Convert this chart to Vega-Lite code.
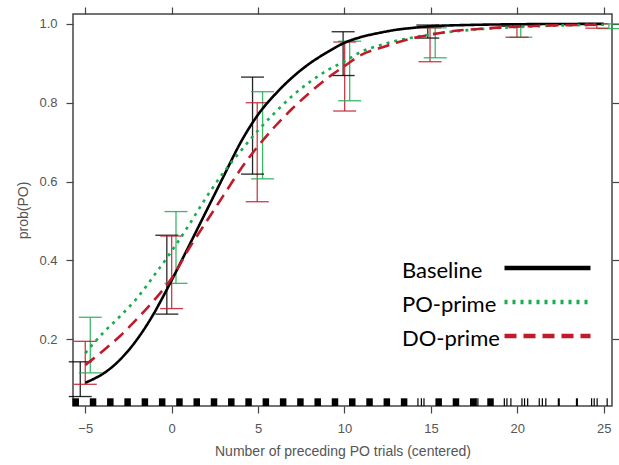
{
  "$schema": "https://vega.github.io/schema/vega-lite/v6.json",
  "width": 539,
  "height": 392,
  "autosize": {"type": "none"},
  "padding": {"left": 73, "top": 14, "right": 7, "bottom": 59},
  "background": "white",
  "config": {
    "view": {"stroke": "#444", "strokeWidth": 1.5},
    "axis": {
      "grid": false, "domain": false, "tickColor": "#444", "tickSize": 7, "tickWidth": 1.2,
      "labelFont": "Liberation Sans", "labelFontSize": 13, "labelColor": "#555", "labelPadding": 9,
      "titleFont": "Liberation Sans", "titleFontSize": 14, "titleColor": "#555", "titleFontWeight": "normal"
    },
    "legend": {"title": null, "orient": "none", "clipHeight": 24, "rowPadding": 10, "padding": 0, "labelFont": "Lato", "labelFontSize": 22, "labelColor": "#000", "labelLimit": 400}
  },
  "datasets": {
    "curves": [
      {"series": "Baseline", "x": -5, "p": 0.09},
      {"series": "Baseline", "x": -4.5, "p": 0.1},
      {"series": "Baseline", "x": -4, "p": 0.112},
      {"series": "Baseline", "x": -3.5, "p": 0.128},
      {"series": "Baseline", "x": -3, "p": 0.148},
      {"series": "Baseline", "x": -2.5, "p": 0.172},
      {"series": "Baseline", "x": -2, "p": 0.2},
      {"series": "Baseline", "x": -1.5, "p": 0.232},
      {"series": "Baseline", "x": -1, "p": 0.268},
      {"series": "Baseline", "x": -0.5, "p": 0.308},
      {"series": "Baseline", "x": 0, "p": 0.35},
      {"series": "Baseline", "x": 1, "p": 0.437},
      {"series": "Baseline", "x": 2, "p": 0.525},
      {"series": "Baseline", "x": 3, "p": 0.613},
      {"series": "Baseline", "x": 4, "p": 0.7},
      {"series": "Baseline", "x": 5, "p": 0.77},
      {"series": "Baseline", "x": 6, "p": 0.822},
      {"series": "Baseline", "x": 7, "p": 0.865},
      {"series": "Baseline", "x": 8, "p": 0.9},
      {"series": "Baseline", "x": 9, "p": 0.928},
      {"series": "Baseline", "x": 10, "p": 0.952},
      {"series": "Baseline", "x": 11, "p": 0.967},
      {"series": "Baseline", "x": 12, "p": 0.977},
      {"series": "Baseline", "x": 13, "p": 0.985},
      {"series": "Baseline", "x": 14, "p": 0.99},
      {"series": "Baseline", "x": 15, "p": 0.994},
      {"series": "Baseline", "x": 17, "p": 0.997},
      {"series": "Baseline", "x": 20, "p": 0.999},
      {"series": "Baseline", "x": 25, "p": 1.0},
      {"series": "PO-prime", "x": -5, "p": 0.165},
      {"series": "PO-prime", "x": -4, "p": 0.215},
      {"series": "PO-prime", "x": -3, "p": 0.258},
      {"series": "PO-prime", "x": -2, "p": 0.305},
      {"series": "PO-prime", "x": -1, "p": 0.363},
      {"series": "PO-prime", "x": 0, "p": 0.424},
      {"series": "PO-prime", "x": 1, "p": 0.49},
      {"series": "PO-prime", "x": 2, "p": 0.56},
      {"series": "PO-prime", "x": 3, "p": 0.623},
      {"series": "PO-prime", "x": 4, "p": 0.678},
      {"series": "PO-prime", "x": 5, "p": 0.73},
      {"series": "PO-prime", "x": 6, "p": 0.776},
      {"series": "PO-prime", "x": 7, "p": 0.818},
      {"series": "PO-prime", "x": 8, "p": 0.853},
      {"series": "PO-prime", "x": 9, "p": 0.882},
      {"series": "PO-prime", "x": 10, "p": 0.905},
      {"series": "PO-prime", "x": 11, "p": 0.93},
      {"series": "PO-prime", "x": 12, "p": 0.945},
      {"series": "PO-prime", "x": 13, "p": 0.957},
      {"series": "PO-prime", "x": 14, "p": 0.966},
      {"series": "PO-prime", "x": 15, "p": 0.973},
      {"series": "PO-prime", "x": 16, "p": 0.979},
      {"series": "PO-prime", "x": 18, "p": 0.987},
      {"series": "PO-prime", "x": 20, "p": 0.992},
      {"series": "PO-prime", "x": 25, "p": 0.998},
      {"series": "DO-prime", "x": -5, "p": 0.135},
      {"series": "DO-prime", "x": -4, "p": 0.17},
      {"series": "DO-prime", "x": -3, "p": 0.208},
      {"series": "DO-prime", "x": -2, "p": 0.252},
      {"series": "DO-prime", "x": -1, "p": 0.3},
      {"series": "DO-prime", "x": 0, "p": 0.355},
      {"series": "DO-prime", "x": 1, "p": 0.43},
      {"series": "DO-prime", "x": 2, "p": 0.498},
      {"series": "DO-prime", "x": 3, "p": 0.565},
      {"series": "DO-prime", "x": 4, "p": 0.632},
      {"series": "DO-prime", "x": 5, "p": 0.69},
      {"series": "DO-prime", "x": 6, "p": 0.741},
      {"series": "DO-prime", "x": 7, "p": 0.786},
      {"series": "DO-prime", "x": 8, "p": 0.826},
      {"series": "DO-prime", "x": 9, "p": 0.862},
      {"series": "DO-prime", "x": 10, "p": 0.893},
      {"series": "DO-prime", "x": 11, "p": 0.922},
      {"series": "DO-prime", "x": 12, "p": 0.938},
      {"series": "DO-prime", "x": 13, "p": 0.952},
      {"series": "DO-prime", "x": 14, "p": 0.964},
      {"series": "DO-prime", "x": 15, "p": 0.973},
      {"series": "DO-prime", "x": 16, "p": 0.98},
      {"series": "DO-prime", "x": 18, "p": 0.988},
      {"series": "DO-prime", "x": 20, "p": 0.993},
      {"series": "DO-prime", "x": 25, "p": 0.998}
    ],
    "bars": [
      {"series": "Baseline", "x": -5.29, "lo": 0.055, "hi": 0.143},
      {"series": "Baseline", "x": -0.28, "lo": 0.264, "hi": 0.464},
      {"series": "Baseline", "x": 4.68, "lo": 0.619, "hi": 0.865},
      {"series": "Baseline", "x": 9.92, "lo": 0.869, "hi": 0.98},
      {"series": "Baseline", "x": 14.82, "lo": 0.964, "hi": 0.997},
      {"series": "Baseline", "x": 19.75, "lo": 0.994, "hi": 1.0},
      {"series": "PO-prime", "x": -4.71, "lo": 0.115, "hi": 0.256},
      {"series": "PO-prime", "x": 0.25, "lo": 0.342, "hi": 0.524},
      {"series": "PO-prime", "x": 5.26, "lo": 0.607, "hi": 0.828},
      {"series": "PO-prime", "x": 10.3, "lo": 0.805, "hi": 0.956},
      {"series": "PO-prime", "x": 15.25, "lo": 0.914, "hi": 0.99},
      {"series": "PO-prime", "x": 20.2, "lo": 0.966, "hi": 1.0},
      {"series": "PO-prime", "x": 25.3, "lo": 0.988, "hi": 1.0},
      {"series": "DO-prime", "x": -5.0, "lo": 0.086, "hi": 0.195},
      {"series": "DO-prime", "x": 0.0, "lo": 0.278, "hi": 0.462},
      {"series": "DO-prime", "x": 4.95, "lo": 0.549, "hi": 0.8},
      {"series": "DO-prime", "x": 10.01, "lo": 0.779, "hi": 0.954},
      {"series": "DO-prime", "x": 14.95, "lo": 0.904, "hi": 0.99},
      {"series": "DO-prime", "x": 19.98, "lo": 0.966, "hi": 1.0},
      {"series": "DO-prime", "x": 24.6, "lo": 0.989, "hi": 1.0}
    ],
    "rug": [
      {"x": -5.55, "n": 7}, {"x": -4.55, "n": 7}, {"x": -3.55, "n": 7}, {"x": -2.55, "n": 7},
      {"x": -1.55, "n": 7}, {"x": -0.55, "n": 7}, {"x": 0.45, "n": 7}, {"x": 1.45, "n": 7},
      {"x": 2.45, "n": 7}, {"x": 3.45, "n": 7}, {"x": 4.45, "n": 7}, {"x": 5.45, "n": 7},
      {"x": 6.45, "n": 7}, {"x": 7.45, "n": 7}, {"x": 8.45, "n": 7}, {"x": 9.45, "n": 7},
      {"x": 10.45, "n": 7}, {"x": 11.45, "n": 7}, {"x": 12.45, "n": 7}, {"x": 13.45, "n": 7},
      {"x": 14.25, "n": 1}, {"x": 14.45, "n": 1}, {"x": 14.6, "n": 1},
      {"x": 15.45, "n": 7}, {"x": 16.45, "n": 7}, {"x": 17.45, "n": 7},
      {"x": 17.62, "n": 1}, {"x": 17.72, "n": 1}, {"x": 18.45, "n": 7},
      {"x": 19.25, "n": 1}, {"x": 19.4, "n": 1}, {"x": 19.63, "n": 1},
      {"x": 20.27, "n": 1}, {"x": 20.42, "n": 1}, {"x": 20.6, "n": 1},
      {"x": 21.27, "n": 1}, {"x": 21.45, "n": 1}, {"x": 21.65, "n": 1},
      {"x": 22.4, "n": 2}, {"x": 23.45, "n": 2},
      {"x": 24.3, "n": 1}, {"x": 24.45, "n": 1}, {"x": 24.62, "n": 1}, {"x": 25.2, "n": 1}
    ]
  },
  "layer": [
    {
      "data": {"name": "rug"},
      "mark": {"type": "rule", "color": "#000"},
      "encoding": {
        "x": {"field": "x", "type": "quantitative", "scale": {"domain": [-5.71, 25.48], "nice": false, "zero": false}, "axis": null},
        "y": {"datum": 0.031, "type": "quantitative", "scale": {"domain": [0.031, 1.025], "nice": false, "zero": false}, "axis": null},
        "y2": {"datum": 0.0505},
        "strokeWidth": {"field": "n", "type": "quantitative", "scale": {"domain": [1, 7], "range": [1.2, 6.5]}, "legend": null}
      }
    },
    {
      "data": {"name": "bars"},
      "mark": {"type": "rule", "strokeWidth": 1.3, "opacity": 0.85},
      "encoding": {
        "x": {"field": "x", "type": "quantitative", "axis": {"orient": "top", "labels": false, "title": null, "values": [-5, 0, 5, 10, 15, 20, 25]}},
        "y": {"field": "lo", "type": "quantitative", "axis": {"orient": "right", "labels": false, "title": null, "values": [0.2, 0.4, 0.6, 0.8, 1.0]}},
        "y2": {"field": "hi"},
        "color": {"field": "series", "type": "nominal"}
      }
    },
    {
      "data": {"name": "bars"},
      "mark": {"type": "tick", "orient": "horizontal", "size": 23, "thickness": 1.3, "opacity": 0.85},
      "encoding": {
        "x": {"field": "x", "type": "quantitative", "axis": null},
        "y": {"field": "lo", "type": "quantitative", "axis": null},
        "color": {"field": "series", "type": "nominal"}
      }
    },
    {
      "data": {"name": "bars"},
      "mark": {"type": "tick", "orient": "horizontal", "size": 23, "thickness": 1.3, "opacity": 0.85},
      "encoding": {
        "x": {"field": "x", "type": "quantitative", "axis": null},
        "y": {"field": "hi", "type": "quantitative", "axis": null},
        "color": {"field": "series", "type": "nominal"}
      }
    },
    {
      "data": {"name": "curves"},
      "mark": {"type": "line", "strokeWidth": 2.6, "interpolate": "monotone", "strokeCap": "butt"},
      "encoding": {
        "x": {"field": "x", "type": "quantitative", "axis": {"orient": "bottom", "title": "Number of preceding PO trials (centered)", "values": [-5, 0, 5, 10, 15, 20, 25], "titlePadding": 9}},
        "y": {"field": "p", "type": "quantitative", "axis": {"orient": "left", "title": "prob(PO)", "values": [0.2, 0.4, 0.6, 0.8, 1.0], "format": ".1f", "titlePadding": 8}},
        "color": {
          "field": "series", "type": "nominal",
          "scale": {"domain": ["Baseline", "PO-prime", "DO-prime"], "range": ["#000000", "#1aab4f", "#c01b2a"]},
          "legend": {"orient": "none", "legendX": 307, "legendY": 245, "symbolType": "stroke", "symbolSize": 1, "symbolStrokeWidth": 0, "symbolOpacity": 0, "symbolOffset": 0, "labelOffset": 0}
        },
        "strokeDash": {
          "field": "series", "type": "nominal",
          "sort": ["Baseline", "PO-prime", "DO-prime"],
          "scale": {"range": [[1, 0], [3, 5], [12, 7]]},
          "legend": {"orient": "none", "legendX": 429, "legendY": 242, "symbolType": "stroke", "symbolSize": 7396, "symbolStrokeWidth": 4.5, "symbolOffset": 0, "labelExpr": "''", "encode": {"symbols": {"update": {"stroke": {"scale": "color", "field": "value"}}}}}
        }
      }
    }
  ],
  "resolve": {"axis": {"x": "independent", "y": "independent"}}
}
